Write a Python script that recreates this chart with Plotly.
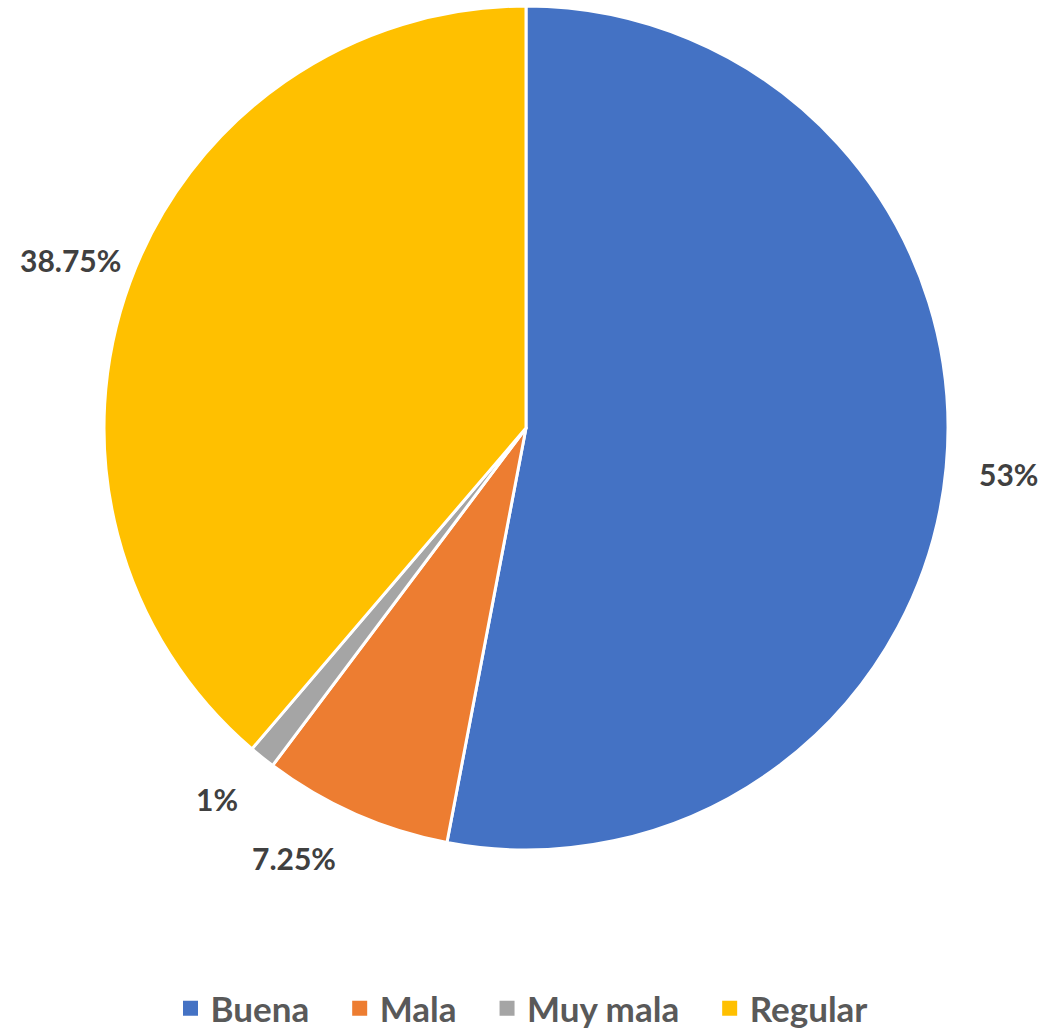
import math
import plotly.graph_objects as go

categorias = ['Buena', 'Mala', 'Muy mala', 'Regular']
porcentajes = [53, 7.25, 1, 38.75]
etiquetas = ['53%', '7.25%', '1%', '38.75%']
colores = ['#4472C4', '#ED7D31', '#A5A5A5', '#FFC000']

W, H = 1043, 1029
cx, cy, r = 526, 428, 422      # pie centre / radius in px
r_lab = 485                     # label distance from centre
# small nudges like Excel's overlap avoidance
ajuste = {'7.25%': (-36, -14), '1%': (-6, -8)}

fig = go.Figure()
fig.add_trace(go.Pie(
    labels=categorias,
    values=porcentajes,
    textinfo='none',
    sort=False,
    direction='clockwise',
    rotation=0,
    marker=dict(colors=colores, line=dict(color='white', width=3)),
    domain=dict(x=[(cx - r) / W, (cx + r) / W], y=[1 - (cy + r) / H, 1 - (cy - r) / H]),
    showlegend=False,
    hoverinfo='label+percent',
))

# legend entries with bigger square markers (padding after each name except the last)
for i, (cat, col) in enumerate(zip(categorias, colores)):
    pad = '\u00a0\u00a0\u00a0' if i < len(categorias) - 1 else ''
    fig.add_trace(go.Scatter(x=[None], y=[None], mode='markers', name=cat + pad,
                             marker=dict(symbol='square', size=15, color=col)))

# data labels placed radially from each slice's middle angle
total = sum(porcentajes)
acum = 0
for val, txt in zip(porcentajes, etiquetas):
    theta = 2 * math.pi * (acum + val / 2) / total
    acum += val
    dx, dy = ajuste.get(txt, (0, 0))
    px = cx + r_lab * math.sin(theta) + dx
    py = cy - r_lab * math.cos(theta) + dy
    fig.add_annotation(x=px / W, y=1 - py / H, xref='paper', yref='paper',
                       xanchor='center', yanchor='middle',
                       text=txt, showarrow=False,
                       font=dict(family='Lato', size=30, color='#404040', weight='bold'))

fig.update_layout(
    width=W, height=H,
    margin=dict(l=0, r=0, t=0, b=0, autoexpand=False),
    paper_bgcolor='white',
    plot_bgcolor='white',
    xaxis=dict(visible=False),
    yaxis=dict(visible=False),
    showlegend=True,
    legend=dict(orientation='h', x=0.5, xanchor='center', y=0.02, yanchor='middle',
                itemsizing='trace',
                font=dict(family='Lato', size=35, color='#595959', weight='bold')),
)

# remove the page's default 8px body margin so the figure fills the window
fig.write_html('out.html', config={'displayModeBar': False},
               post_script="document.body.style.margin='0';")
